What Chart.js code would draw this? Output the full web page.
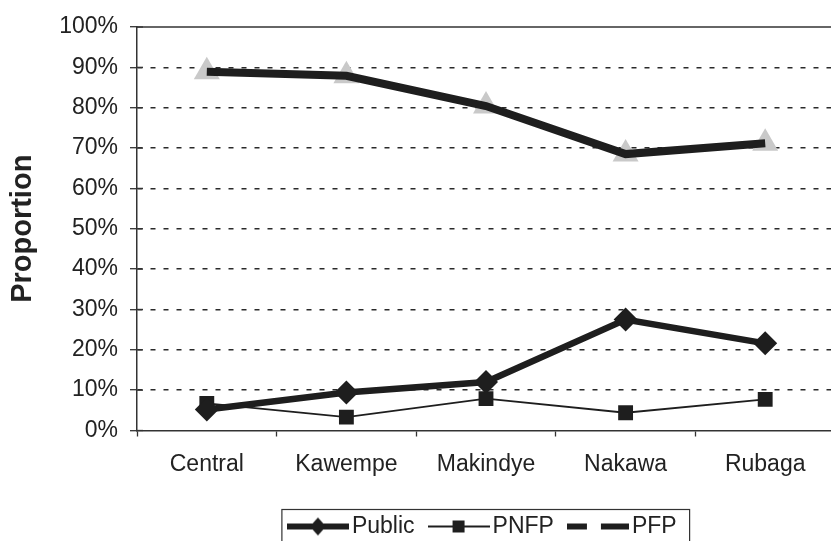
<!DOCTYPE html>
<html>

<head>
    <title>Proportion by division</title>
    <style>
        html,
        body {
            margin: 0;
            padding: 0;
            background-color: #fff;
            overflow: hidden;
        }

        #wrap {
            width: 831px;
            height: 541px;
            overflow: hidden;
        }
    </style>
</head>

<body>
    <div id="wrap">
        <canvas id="chart" width="850" height="548"></canvas>
    </div>
    <script src="https://cdn.jsdelivr.net/npm/chart.js"></script>
    <script>
        // values (percent)
        const divisions = ['Central', 'Kawempe', 'Makindye', 'Nakawa', 'Rubaga'];
        const publicShare = [5.2, 9.4, 12, 27.5, 21.6];
        const pnfpShare = [6.7, 3.3, 7.9, 4.4, 7.7];
        const pfpShare = [88.9, 87.9, 80.4, 68.5, 71.2];
        const yTicks = [0, 10, 20, 30, 40, 50, 60, 70, 80, 90, 100];

        const ink = '#1e1e1e';
        const triGrey = '#c9c9c9';

        Chart.defaults.font.family = "'Liberation Sans', Arial, sans-serif";
        Chart.defaults.font.size = 23;
        Chart.defaults.color = '#222';

        // little pictures for the legend: line + marker, like the original
        const makeIcon = (draw) => {
            const c = document.createElement('canvas');
            c.width = 62;
            c.height = 24;
            const g = c.getContext('2d');
            g.strokeStyle = ink;
            g.fillStyle = ink;
            draw(g);
            return c;
        };

        const legendIcons = [
            makeIcon((g) => {
                g.lineWidth = 6;
                g.beginPath(); g.moveTo(0, 12); g.lineTo(62, 12); g.stroke();
                g.beginPath(); g.moveTo(31, 3); g.lineTo(39, 12); g.lineTo(31, 21); g.lineTo(23, 12); g.closePath(); g.fill();
            }),
            makeIcon((g) => {
                g.lineWidth = 2;
                g.beginPath(); g.moveTo(0, 12); g.lineTo(62, 12); g.stroke();
                g.fillRect(25, 6, 12, 12);
            }),
            makeIcon((g) => {
                g.lineWidth = 6;
                g.beginPath(); g.moveTo(0, 12); g.lineTo(20, 12); g.stroke();
                g.beginPath(); g.moveTo(34, 12); g.lineTo(62, 12); g.stroke();
            }),
        ];

        const frame = {
            id: 'frame',
            afterDraw(chart) {
                const { ctx, chartArea } = chart;
                ctx.save();
                ctx.strokeStyle = '#333';
                ctx.lineWidth = 1.5;
                // top border of the plot area
                ctx.beginPath();
                ctx.moveTo(chartArea.left, chartArea.top);
                ctx.lineTo(chart.width, chartArea.top);
                ctx.stroke();
                // y ticks cross the axis a little
                const y = chart.scales.y;
                ctx.lineWidth = 1.3;
                y.ticks.forEach((t) => {
                    const py = y.getPixelForValue(t.value);
                    ctx.beginPath();
                    ctx.moveTo(chartArea.left, py);
                    ctx.lineTo(chartArea.left + 6, py);
                    ctx.stroke();
                });
                // box round the legend
                const hb = chart.legend.legendHitBoxes;
                if (hb && hb.length) {
                    const last = hb[hb.length - 1];
                    const left = hb[0].left - 13.5;
                    const right = last.left + last.width + 13;
                    const top = hb[0].top - 5.5;
                    ctx.lineWidth = 1.2;
                    ctx.strokeRect(left, top, right - left, chart.height + 10 - top);
                }
                ctx.restore();
            }
        };

        new Chart(document.getElementById('chart'), {
            type: 'line',
            data: {
                labels: divisions,
                datasets: [
                    {
                        label: 'Public',
                        data: publicShare,
                        borderColor: ink,
                        backgroundColor: ink,
                        borderWidth: 6.5,
                        pointStyle: 'rectRot',
                        pointRadius: 12,
                        pointBorderWidth: 0,
                        tension: 0,
                        order: 1,
                    },
                    {
                        label: 'PNFP',
                        data: pnfpShare,
                        borderColor: ink,
                        backgroundColor: ink,
                        borderWidth: 1.8,
                        pointStyle: 'rect',
                        pointRadius: 10.5,
                        pointBorderWidth: 0,
                        tension: 0,
                        order: 2,
                    },
                    {
                        label: 'PFP',
                        data: pfpShare,
                        borderColor: ink,
                        backgroundColor: ink,
                        borderWidth: 8,
                        pointRadius: 0,
                        tension: 0,
                        order: 0,
                    },
                    {
                        label: 'PFP markers',
                        data: pfpShare,
                        showLine: false,
                        borderColor: triGrey,
                        backgroundColor: triGrey,
                        pointStyle: 'triangle',
                        pointRadius: 15,
                        pointBorderWidth: 0,
                        order: 5,
                    },
                ]
            },
            options: {
                responsive: false,
                animation: false,
                events: [],
                layout: {
                    padding: { top: 27, right: 9, left: 0, bottom: 0 }
                },
                scales: {
                    x: {
                        offset: true,
                        afterFit: (s) => { s.height = 63; },
                        grid: {
                            display: true,
                            offset: true,
                            drawOnChartArea: false,
                            drawTicks: true,
                            tickLength: 6,
                            tickColor: '#333',
                            tickWidth: 1.3,
                        },
                        border: { display: true, color: '#333', width: 1.5 },
                        ticks: { padding: 14, color: '#222', maxRotation: 0 },
                    },
                    y: {
                        min: 0,
                        max: 100,
                        afterFit: (s) => { s.width = 137; },
                        afterBuildTicks: (s) => { s.ticks = yTicks.map((v) => ({ value: v })); },
                        grid: {
                            color: (c) => (c.tick && (c.tick.value === 0 || c.tick.value === 100)) ? 'rgba(0,0,0,0)' : '#2a2a2a',
                            lineWidth: 1.4,
                            tickLength: 7,
                            tickColor: '#333',
                            tickWidth: 1.3,
                        },
                        border: { display: true, color: '#333', width: 1.5, dash: [5, 8] },
                        ticks: {
                            padding: 12,
                            color: '#222',
                            callback: (v) => v + '%',
                        },
                        title: {
                            display: true,
                            text: 'Proportion',
                            color: '#222',
                            font: { size: 29, weight: 'bold' },
                            padding: { top: 6, bottom: 0 },
                        },
                    }
                },
                plugins: {
                    tooltip: { enabled: false },
                    legend: {
                        position: 'bottom',
                        fullSize: false,
                        labels: {
                            usePointStyle: true,
                            pointStyleWidth: 45,
                            padding: 21.5,
                            color: '#222',
                            font: { size: 23 },
                            sort: (a, b) => a.datasetIndex - b.datasetIndex,
                            generateLabels: (chart) => Chart.defaults.plugins.legend.labels.generateLabels(chart)
                                .filter((item) => item.datasetIndex < 3)
                                .map((item) => ({ ...item, pointStyle: legendIcons[item.datasetIndex] })),
                        },
                    },
                },
            },
            plugins: [frame],
        });
    </script>
</body>

</html>
